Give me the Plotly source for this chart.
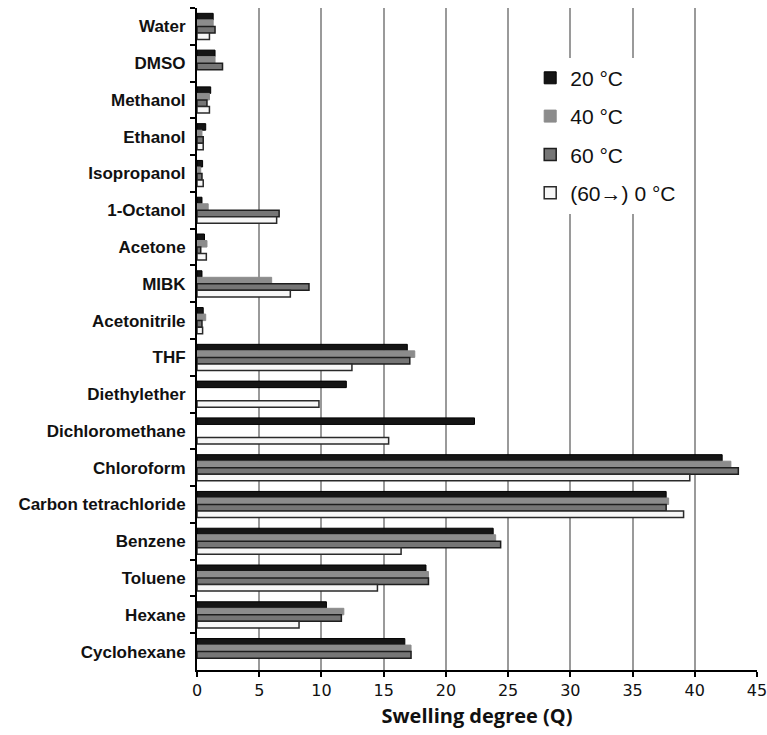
import plotly.graph_objects as go

solvents = ["Water", "DMSO", "Methanol", "Ethanol", "Isopropanol", "1-Octanol",
            "Acetone", "MIBK", "Acetonitrile", "THF", "Diethylether",
            "Dichloromethane", "Chloroform", "Carbon tetrachloride", "Benzene",
            "Toluene", "Hexane", "Cyclohexane"]

q_20 = [1.3, 1.45, 1.1, 0.7, 0.45, 0.4, 0.6, 0.4, 0.5, 16.9, 12.0, 22.3, 42.2, 37.7, 23.8, 18.4, 10.4, 16.7]
q_40 = [1.3, 1.45, 1.0, 0.4, 0.3, 0.9, 0.8, 6.0, 0.7, 17.5, None, None, 42.9, 37.9, 24.0, 18.6, 11.8, 17.2]
q_60 = [1.45, 2.05, 0.8, 0.5, 0.4, 6.6, 0.3, 9.0, 0.4, 17.1, None, None, 43.5, 37.7, 24.4, 18.6, 11.6, 17.2]
q_0 = [1.0, None, 1.0, 0.5, 0.5, 6.4, 0.75, 7.5, 0.45, 12.45, 9.8, 15.4, 39.6, 39.1, 16.4, 14.5, 8.2, None]

series_names = ["20 °C", "40 °C", "60 °C", "(60→) 0 °C"]

styles = [
    dict(color="#151515", line=dict(color="#000000", width=1)),
    dict(color="#8c8c8c", line=dict(color="#8c8c8c", width=1)),
    dict(color="#767676", line=dict(color="#1e1e1e", width=1.5)),
    dict(color="#f7f7f7", line=dict(color="#2a2a2a", width=1.5)),
]

fig = go.Figure()
for i, (name, vals) in enumerate(zip(series_names, [q_20, q_40, q_60, q_0])):
    fig.add_trace(go.Bar(
        y=solvents, x=vals, name=name, orientation="h",
        marker=styles[i], legendgroup=f"g{i}",
    ))

fig.update_layout(
    width=767, height=735,
    margin=dict(l=197, r=10, t=8, b=65),
    paper_bgcolor="white", plot_bgcolor="white",
    barmode="group", bargap=0.29, bargroupgap=0,
    font=dict(family="Liberation Sans, Arial, sans-serif", color="#111"),
    legend=dict(
        x=0.595, y=0.925, xanchor="left", yanchor="top",
        font=dict(size=21, family="Liberation Sans, Arial, sans-serif", color="#111"),
        bgcolor="white", tracegroupgap=8, traceorder="grouped",
        itemwidth=30,
    ),
    xaxis=dict(
        range=[0, 45], tickmode="array", tickvals=list(range(0, 46, 5)),
        showgrid=True, gridcolor="#9a9a9a", gridwidth=1.5,
        showline=True, linecolor="#000", linewidth=2,
        ticks="outside", ticklen=5, tickwidth=2, tickcolor="#000",
        tickfont=dict(family="DejaVu Sans, Verdana, sans-serif", size=16, color="#111"),
        ticklabeloverflow="allow",
        title=dict(text="<b>Swelling degree (Q)</b>", standoff=10,
                   font=dict(family="Open Sans, Arial, sans-serif", size=20, color="#111")),
        zeroline=False, automargin=False,
    ),
    yaxis=dict(
        autorange="reversed", type="category",
        showline=True, linecolor="#000", linewidth=2,
        ticks="outside", tickson="boundaries", ticklen=5, tickwidth=2, tickcolor="#000",
        tickfont=dict(family="Liberation Sans, Arial, sans-serif", size=17, color="#111"),
        showgrid=False, automargin=False, ticklabelstandoff=6,
    ),
)
fig.update_yaxes(tickprefix="<b>", ticksuffix="</b>")
fig.update_xaxes(tickprefix="<b>", ticksuffix="</b>")

fig.write_html("out.html", config={"displayModeBar": False},
               post_script="document.body.style.margin='0';")
